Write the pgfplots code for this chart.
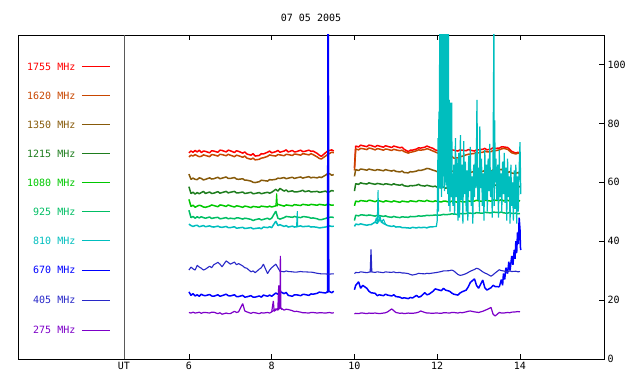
\documentclass[border=0pt]{standalone}
\usepackage{fontspec}
\setmonofont{DejaVu Sans Mono}
\usepackage{pgfplots}
\usepackage{pgfplotstable}
\pgfplotsset{compat=1.18}
\newcommand\pf{\ttfamily\fontsize{10bp}{12bp}\selectfont}
\definecolor{cA}{RGB}{255,0,0}
\definecolor{cB}{RGB}{200,70,0}
\definecolor{cC}{RGB}{135,90,10}
\definecolor{cD}{RGB}{30,125,30}
\definecolor{cE}{RGB}{0,200,0}
\definecolor{cF}{RGB}{0,190,100}
\definecolor{cG}{RGB}{0,190,190}
\definecolor{cH}{RGB}{0,0,255}
\definecolor{cI}{RGB}{40,40,200}
\definecolor{cJ}{RGB}{125,0,200}
\pgfplotstableread{
t A B C D E F G H I J
6.0 70.0 68.6 62.8 58.5 54.2 50.5 45.8 22.8 30.2 15.8
6.05 70.6 69.2 61.0 56.2 51.8 48.0 45.3 21.6 31.2 15.6
6.1 70.2 68.9 61.4 56.6 52.2 48.4 45.0 22.2 30.6 15.9
6.15 70.8 69.4 61.0 56.0 51.5 47.8 45.3 21.4 30.2 15.6
6.2 70.3 69.0 60.9 56.5 51.9 48.3 45.4 21.8 31.8 15.7
6.25 70.9 68.7 61.5 56.1 52.2 47.9 44.9 21.3 31.2 15.9
6.3 70.1 68.8 61.3 56.5 52.0 48.3 45.1 22.0 30.8 15.5
6.35 70.6 69.3 60.8 56.9 51.6 48.0 45.3 21.6 30.2 15.8
6.4 70.5 69.1 61.0 56.2 51.5 47.8 44.9 21.5 30.5 15.8
6.5 70.0 68.7 61.5 56.7 51.9 48.2 45.2 21.9 31.5 15.6
6.55 70.7 69.4 61.1 56.2 52.3 47.7 44.9 21.4 31.0 15.9
6.6 70.6 69.3 61.2 56.3 52.1 47.9 44.8 21.3 32.0 15.9
6.7 70.2 68.9 61.7 56.8 51.7 48.1 45.1 21.8 32.8 15.4
6.75 70.9 69.5 61.2 56.3 52.3 47.6 44.8 21.3 32.2 15.7
6.8 70.8 69.4 61.4 56.5 52.2 47.7 44.7 21.5 31.3 15.2
6.9 70.3 69.0 61.8 56.9 51.8 48.0 45.0 22.0 33.3 15.6
6.95 70.9 69.5 61.3 56.4 52.3 47.6 44.6 21.5 32.8 15.4
7.0 70.7 69.2 61.3 56.6 52.0 47.8 44.6 21.4 32.2 15.4
7.1 70.1 68.7 61.6 56.9 51.6 47.6 44.9 21.8 32.9 16.2
7.15 70.7 69.2 61.1 56.4 52.0 47.9 44.4 21.2 32.0 15.8
7.2 70.5 69.0 61.0 56.4 51.9 47.9 44.5 21.2 32.4 16.0
7.3 69.9 68.5 61.2 56.7 51.5 47.5 44.7 21.6 31.6 18.8
7.35 70.3 68.9 60.7 56.2 51.9 47.8 44.3 21.0 31.0 16.3
7.4 69.6 68.2 60.7 56.3 51.8 47.7 44.4 21.1 30.8 16.0
7.5 69.2 67.8 60.4 56.6 51.4 47.4 44.6 21.5 29.6 15.5
7.55 69.7 68.2 60.0 56.1 51.8 47.0 44.2 21.0 29.9 15.8
7.6 68.9 67.6 59.9 56.2 51.7 47.3 44.3 21.0 29.3 15.7
7.7 69.1 67.8 60.2 56.5 51.5 47.6 44.5 21.4 30.5 15.4
7.75 69.7 68.2 60.7 56.1 51.9 47.2 44.2 21.0 31.0 15.7
7.8 69.6 68.3 60.6 56.3 51.8 47.4 44.8 21.7 32.2 15.6
7.9 70.2 68.8 60.4 56.6 51.6 47.8 44.6 21.3 29.0 15.8
7.95 70.6 69.3 60.9 56.3 51.9 47.4 44.9 21.7 30.2 15.6
8.0 70.0 69.1 60.8 56.6 51.6 47.8 44.6 21.3 31.0 16.0
8.1 70.4 68.9 61.0 57.6 52.0 50.2 46.8 22.4 32.2 17.0
8.15 70.8 69.4 61.4 57.0 52.5 47.8 45.3 22.0 31.0 16.6
8.2 70.2 69.3 61.3 57.9 52.3 47.5 45.6 22.9 29.8 17.5
8.3 70.6 69.0 61.6 57.0 51.9 48.0 45.0 22.2 29.6 16.6
8.35 71.0 69.5 61.2 57.4 52.3 48.4 45.3 22.6 29.9 16.9
8.4 70.3 69.4 61.4 56.8 52.2 48.3 44.8 21.6 29.7 16.8
8.5 70.8 69.1 61.7 57.1 52.0 48.1 45.1 21.3 29.6 16.4
8.55 70.3 69.6 61.3 56.7 52.4 48.4 44.8 21.8 29.5 16.1
8.6 70.4 69.5 61.5 56.7 52.3 48.2 44.9 21.8 29.5 16.2
8.7 70.9 69.2 61.8 57.0 52.1 48.0 45.2 21.5 29.7 15.9
8.75 70.4 69.7 61.4 57.3 52.5 48.3 44.9 21.9 29.6 15.7
8.8 70.5 69.6 61.6 56.8 52.4 48.3 45.0 21.9 29.6 15.7
8.9 70.9 69.3 61.9 57.1 52.2 48.1 45.1 21.6 29.5 15.6
8.95 70.5 69.7 61.5 56.7 52.5 47.8 44.8 22.1 29.5 15.8
9.0 70.6 69.4 61.7 56.8 52.4 47.9 44.9 22.0 29.4 15.8
9.1 69.8 68.6 61.5 56.9 52.2 47.6 44.7 22.3 29.1 15.6
9.15 69.2 68.1 61.8 56.6 52.5 47.3 44.5 22.7 29.0 15.7
9.2 68.8 67.9 61.6 56.7 52.4 47.3 44.6 22.6 28.9 15.7
9.3 70.0 68.9 62.4 57.0 52.2 47.7 44.8 22.4 28.9 15.6
9.35 70.6 69.4 62.9 56.6 52.6 48.0 45.0 22.8 28.8 15.7
9.4 70.8 69.8 62.9 56.8 52.4 48.1 45.2 22.9 28.8 15.8
9.45 71.0 70.2 62.4 57.2 52.2 48.2 45.0 22.5 28.9 15.6
9.5 70.6 70.0 62.6 57.0 52.3 48.0 45.1 23.0 28.9 15.7
9.75 nan nan nan nan nan nan nan nan nan nan
10.0 65.0 64.0 62.0 57.0 52.0 47.0 45.0 23.5 29.0 15.3
10.03 72.3 71.3 64.3 59.5 53.6 48.8 45.8 25.0 29.4 15.5
10.1 72.0 71.0 64.0 59.3 53.4 48.6 45.6 26.2 29.3 15.4
10.15 72.6 71.5 64.5 59.8 53.8 48.9 45.9 24.0 29.6 15.6
10.2 72.4 71.4 64.4 59.6 53.7 48.9 45.7 25.0 29.5 15.6
10.3 72.1 71.1 64.1 59.4 53.5 48.7 45.4 24.0 29.3 15.4
10.35 72.6 71.6 64.5 59.8 53.9 48.9 45.6 23.0 29.5 15.6
10.4 72.5 71.5 64.3 59.6 53.8 48.8 45.6 22.5 29.6 15.5
10.5 72.0 71.0 64.0 59.3 53.4 48.5 46.5 22.3 29.4 15.6
10.55 72.5 71.4 64.3 59.6 53.8 48.8 46.0 21.5 29.6 15.5
10.6 72.3 71.3 64.2 59.5 53.7 48.7 47.5 21.8 29.5 15.4
10.7 71.9 70.9 63.9 59.2 53.3 48.4 46.0 21.5 29.3 15.6
10.75 72.4 71.3 64.3 59.5 53.7 48.6 45.7 22.0 29.6 15.7
10.8 72.2 71.2 64.1 59.4 53.6 48.3 45.3 21.7 29.5 16.0
10.9 71.8 70.8 63.8 59.1 53.3 48.1 45.0 21.4 29.4 17.0
10.95 72.3 71.2 64.1 59.5 53.7 48.4 45.2 21.8 29.6 16.4
11.0 72.1 71.0 63.7 59.2 53.5 48.2 44.8 21.2 29.3 15.8
11.1 71.7 70.7 63.5 59.0 53.2 48.0 44.9 21.0 29.4 15.5
11.15 71.9 70.9 63.8 59.3 53.6 48.3 44.6 20.6 29.2 15.6
11.2 71.2 70.4 63.3 58.8 53.5 48.2 44.6 20.8 29.2 15.4
11.3 70.4 69.9 63.2 58.6 53.3 48.1 44.5 20.5 29.0 15.6
11.35 70.9 70.2 63.6 58.9 53.7 48.4 44.4 20.9 28.7 15.5
11.4 70.9 70.3 63.5 58.8 53.6 48.3 44.7 20.7 28.5 15.5
11.5 71.3 70.7 63.8 59.0 53.4 48.4 44.5 21.6 28.8 15.7
11.55 71.7 71.0 64.1 59.3 53.8 48.6 44.7 21.0 29.1 15.9
11.6 71.6 70.9 64.0 58.9 53.7 48.5 44.6 21.2 29.0 16.3
11.7 71.9 71.1 64.4 58.7 53.5 48.6 44.7 22.5 28.9 15.8
11.75 72.3 71.4 64.7 59.0 53.9 48.8 44.5 21.8 29.1 15.6
11.8 72.0 71.2 64.6 58.8 53.6 48.7 44.8 22.0 29.0 15.6
11.9 71.5 70.6 64.1 58.5 53.4 48.8 44.9 23.0 29.2 15.5
11.95 71.0 70.3 63.9 58.7 53.7 48.9 nan 23.8 29.3 15.6
12.0 70.8 70.0 63.6 58.3 53.5 48.8 nan 23.6 29.4 15.6
12.1 70.2 69.3 62.9 58.1 53.3 48.9 nan 23.2 29.7 15.5
12.15 70.6 69.5 63.3 58.4 53.6 49.1 nan 24.0 29.9 15.7
12.2 70.8 68.9 63.2 58.0 53.6 49.0 nan 23.4 29.9 15.7
12.3 71.4 68.5 63.4 58.3 53.2 49.1 nan 23.0 30.0 15.6
12.35 71.0 68.9 63.8 58.6 53.6 49.3 nan 22.4 30.2 15.8
12.4 70.9 68.2 63.8 58.5 53.5 49.2 nan 22.0 29.9 15.8
12.5 70.6 68.3 63.6 58.6 53.2 49.1 nan 21.7 28.7 15.6
12.55 71.0 68.7 63.3 58.3 53.6 49.4 nan 22.4 28.4 15.8
12.6 70.9 68.8 63.3 58.4 53.4 49.3 nan 22.8 28.5 15.7
12.7 70.7 69.3 63.2 58.7 53.3 49.4 nan 23.4 29.0 16.0
12.75 71.1 69.5 63.6 58.4 53.7 49.6 nan 24.5 29.4 16.2
12.8 70.9 69.6 63.4 58.8 53.5 49.5 nan 26.0 29.8 16.3
12.9 70.6 69.8 63.6 58.6 53.6 49.4 nan 27.2 30.4 16.0
12.95 71.0 70.2 63.3 58.9 53.9 49.7 nan 25.0 30.8 15.9
13.0 71.0 70.0 63.5 58.7 53.7 49.6 nan 24.0 30.6 15.8
13.1 71.2 70.2 63.7 58.9 53.5 49.5 nan 26.8 29.6 16.2
13.15 71.5 70.6 64.0 59.2 53.9 49.8 nan 24.2 29.2 16.5
13.2 71.0 70.3 63.9 59.1 53.8 49.7 nan 23.4 28.9 16.8
13.3 71.3 70.4 63.8 59.2 53.6 49.6 nan 24.2 28.1 17.5
13.35 71.7 70.8 64.2 58.9 54.0 49.9 nan 25.0 28.6 15.2
13.4 71.5 70.7 64.0 59.0 53.9 49.8 nan 24.6 29.2 14.6
13.5 71.6 71.0 64.2 59.0 53.8 49.7 nan 24.5 30.3 15.8
13.55 72.0 71.3 64.4 59.3 54.1 49.9 nan nan 30.0 15.6
13.6 72.0 71.5 63.8 58.9 53.7 49.6 nan nan 29.9 15.6
13.7 71.8 71.2 63.3 58.8 53.9 49.5 nan nan 29.6 15.8
13.75 71.2 70.6 63.6 59.1 53.6 49.8 nan nan 29.9 15.7
13.8 70.5 70.0 63.1 58.6 53.7 49.4 nan nan 29.7 15.9
13.9 69.9 69.6 63.0 58.5 53.6 49.5 nan nan 29.8 16.0
13.95 70.2 69.9 63.3 58.8 53.9 49.3 nan nan 29.6 16.1
14.0 69.8 69.7 62.9 58.4 53.6 49.4 nan nan 29.7 16.0
}\data
\begin{document}
\begin{tikzpicture}
\path[use as bounding box] (-18bp,-25bp) rectangle (622bp,359bp);
\begin{axis}[
  scale only axis, width=586bp, height=324bp,
  xmin=1.87, xmax=16.03, ymin=0, ymax=110,
  xtick={6,8,10,12,14}, ytick={0,20,40,60,80,100},
  extra x ticks={4.43}, extra x tick labels={UT},
  extra x tick style={major tick length=0pt},
  ytick pos=right, xtick pos=both,
  xticklabel pos=bottom,
  major tick length=5bp,
  axis line style={line width=0.8bp},
  tick style={black, line width=0.8bp},
  ticklabel style={font=\pf},
  /pgf/number format/assume math mode=true,
  unbounded coords=jump,
  every axis plot/.append style={line width=1.5bp, mark=none, line join=bevel},
]
\draw[gray!70!black, line width=0.8bp] (axis cs:4.43,0) -- (axis cs:4.43,110);
% legend
\foreach \lab/\col/\yy in {1755 MHz/cA/99.2, 1620 MHz/cB/89.4, 1350 MHz/cC/79.5, 1215 MHz/cD/69.7, 1080 MHz/cE/59.8, 925 MHz/cF/50.0, 810 MHz/cG/40.1, 670 MHz/cH/30.2, 405 MHz/cI/20.0, 275 MHz/cJ/9.8}{
  \edef\tmp{\noexpand\draw[\col, line width=0.8bp] (axis cs:3.414,\yy) -- (axis cs:4.09,\yy);
  \noexpand\node[anchor=east, inner sep=0pt, text=\col, font=\noexpand\pf] at (axis cs:3.26,\yy) {\lab};}
  \tmp
}
\addplot[cA] table[x=t,y=A]{\data};
\addplot[cB] table[x=t,y=B]{\data};
\addplot[cC] table[x=t,y=C]{\data};
\addplot[cD] table[x=t,y=D]{\data};
\addplot[cE] table[x=t,y=E]{\data};
\addplot[cE, line width=1bp] coordinates {(8.1,52.0)(8.12,56.2)(8.14,51.8)};
\addplot[cF] table[x=t,y=F]{\data};
\addplot[cG] table[x=t,y=G]{\data};
\addplot[cG, line width=1bp] coordinates {(8.6,44.9)(8.62,50.2)(8.63,45.1)};
\addplot[cG, line width=1bp] coordinates {(10.5,46.5)(10.53,48)(10.55,46)(10.57,57.3)(10.59,46.5)(10.62,48.5)(10.65,46.2)(10.7,47.5)(10.75,45.8)};
\addplot[cG, line width=1.2bp] coordinates {
(11.9,44.9)(11.98,45.0)(12.00,47)(12.01,60)(12.02,75)(12.03,50)(12.04,84)(12.05,58)(12.06,115)
(12.065,66)(12.07,115)(12.075,62)(12.08,115)(12.085,58)(12.09,115)(12.095,70)(12.10,115)(12.105,55)
(12.11,115)(12.115,60)(12.12,89)(12.125,64)(12.13,115)(12.135,58)(12.14,115)(12.145,80)(12.15,115)
(12.155,62)(12.16,115)(12.165,65)(12.17,115)(12.175,57)(12.18,115)(12.185,60)(12.19,115)(12.195,66)
(12.20,115)(12.205,72)(12.21,115)(12.215,59)(12.22,115)(12.225,66)(12.23,115)(12.235,58)
(12.24,115)(12.245,61)(12.25,115)(12.255,56)(12.26,115)(12.265,63)(12.27,115)(12.28,52)(12.29,88)
(12.30,60)(12.31,50)(12.32,87)(12.33,62)(12.34,55)(12.35,87)(12.36,58)
(12.38,52)(12.40,66)(12.42,49)(12.44,75)(12.46,55)(12.48,68)(12.50,47)(12.52,70)(12.54,48)
(12.56,76)(12.58,54)(12.60,66)(12.62,46)(12.64,74)(12.66,56)(12.68,67)(12.70,50)(12.72,64)
(12.74,47)(12.76,69)(12.78,57)(12.80,72)(12.82,52)(12.84,62)(12.86,46)(12.88,66)(12.90,55)
(12.92,70)(12.94,58)(12.96,88)(12.98,54)(13.00,65)(13.02,50)(13.03,79)(13.05,58)(13.07,68)
(13.09,52)(13.11,63)(13.13,47)(13.15,71)(13.17,54)(13.19,66)(13.21,50)(13.23,68)(13.25,57)
(13.27,73)(13.29,55)(13.31,64)(13.33,48)(13.35,70)(13.37,115)(13.38,52)(13.39,81)(13.40,60)
(13.42,68)(13.44,54)(13.46,66)(13.48,48)(13.50,71)(13.52,55)(13.54,63)(13.56,50)(13.58,67)
(13.60,56)(13.62,70)(13.64,53)(13.66,65)(13.68,47)(13.70,68)(13.72,55)(13.74,62)(13.76,46)
(13.78,66)(13.80,52)(13.82,60)(13.84,47)(13.86,64)(13.88,51)(13.90,66)(13.92,46)(13.94,62)
(13.96,50)(13.98,65)(14.00,73.6)(14.02,56)};
\addplot[cH] table[x=t,y=H]{\data};
\addplot[cH] coordinates {(9.33,22.6)(9.35,22.8)(9.36,115)(9.37,115)(9.38,23)(9.4,22.9)};
\addplot[cH] coordinates {(13.5,24.5)(13.55,27)(13.58,25)(13.6,29)(13.63,27)(13.66,31)(13.7,29)(13.73,33)(13.76,30)(13.8,35)(13.83,32)(13.86,37)(13.88,34)(13.9,40)(13.92,36)(13.94,43)(13.96,39)(13.98,48)(14.0,44)(14.01,38)(14.02,37)};
\addplot[cI, line width=1.1bp] table[x=t,y=I]{\data};
\addplot[cI, line width=1.1bp] coordinates {(10.38,29.5)(10.4,37.2)(10.42,29.5)};
\addplot[cJ, line width=1.2bp] table[x=t,y=J]{\data};
\addplot[cJ, line width=1.2bp] coordinates {(8.0,16.0)(8.04,19.7)(8.06,16.2)(8.15,17.2)(8.17,25)(8.18,17)(8.2,17.5)(8.21,35)(8.22,17.2)(8.25,16.8)};
\end{axis}
\node[font=\pf] at (293bp,341bp) {07 05 2005};
\end{tikzpicture}
\end{document}
